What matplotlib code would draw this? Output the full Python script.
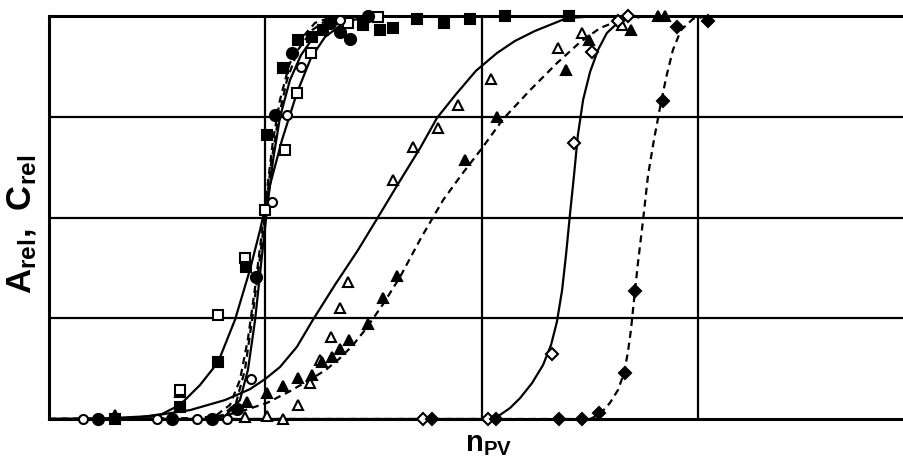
import matplotlib
matplotlib.use("Agg")
import matplotlib.pyplot as plt

plt.rcParams['font.family'] = ['Liberation Sans', 'DejaVu Sans']
plt.rcParams['mathtext.fontset'] = 'custom'
plt.rcParams['mathtext.rm'] = 'Liberation Sans'
plt.rcParams['mathtext.bf'] = 'Liberation Sans:bold'

# ---- measured points (x in grid units, y relative 0..1) ----
sq_open_x = [0.605, 0.781, 0.905, 0.998, 1.090, 1.145, 1.210, 1.381, 1.520]
sq_open_y = [0.072, 0.258, 0.400, 0.519, 0.667, 0.809, 0.908, 0.983, 0.998]

sq_fill_x = [0.305, 0.605, 0.781, 0.910, 1.007, 1.081, 1.150, 1.215, 1.266, 1.450,
             1.529, 1.589, 1.700, 1.824, 1.945, 2.106, 2.402]
sq_fill_y = [0.000, 0.030, 0.141, 0.377, 0.705, 0.871, 0.940, 0.948, 0.965, 0.978,
             0.965, 0.970, 0.993, 0.983, 0.993, 1.000, 1.000]

ci_fill_x = [0.226, 0.568, 0.753, 0.868, 0.956, 1.044, 1.122, 1.298, 1.344, 1.390, 1.473]
ci_fill_y = [0.000, 0.000, 0.000, 0.025, 0.352, 0.754, 0.908, 0.983, 0.960, 0.943, 1.000]

ci_open_x = [0.157, 0.499, 0.684, 0.822, 0.933, 1.030, 1.099, 1.164, 1.344]
ci_open_y = [0.000, 0.000, 0.000, 0.000, 0.099, 0.538, 0.754, 0.873, 0.990]

tri_open_x = [0.605, 0.905, 1.007, 1.081, 1.150, 1.206, 1.252, 1.303, 1.344, 1.381,
              1.589, 1.681, 1.797, 1.889, 2.042, 2.351, 2.462, 2.647]
tri_open_y = [0.067, 0.005, 0.007, 0.000, 0.035, 0.089, 0.146, 0.203, 0.275, 0.340,
              0.593, 0.675, 0.722, 0.779, 0.844, 0.921, 0.958, 0.978]

tri_fill_x = [0.305, 0.915, 1.007, 1.081, 1.150, 1.215, 1.261, 1.307, 1.344, 1.386,
              1.473, 1.543, 1.607, 1.921, 2.069, 2.388, 2.494, 2.688, 2.813, 2.845]
tri_fill_y = [0.010, 0.042, 0.065, 0.082, 0.102, 0.109, 0.141, 0.154, 0.174, 0.196,
              0.236, 0.300, 0.355, 0.643, 0.749, 0.866, 0.940, 0.965, 1.000, 1.000]

dia_open_x = [1.727, 2.028, 2.323, 2.425, 2.508, 2.628, 2.674]
dia_open_y = [0.000, 0.000, 0.161, 0.685, 0.911, 0.988, 1.000]

dia_fill_x = [1.769, 2.065, 2.356, 2.462, 2.540, 2.661, 2.707, 2.836, 2.901, 3.044]
dia_fill_y = [0.000, 0.000, 0.000, 0.000, 0.015, 0.114, 0.318, 0.789, 0.973, 0.988]

# ---- fitted curves ----
fit_sq_open_x = [0, 0.236, 0.400, 0.520, 0.605, 0.697, 0.781, 0.859, 0.928, 0.975, 1.021,
                 1.076, 1.145, 1.210, 1.275, 1.367, 1.483, 2.0]
fit_sq_open_y = [0, 0, 0.003, 0.012, 0.035, 0.084, 0.141, 0.246, 0.370, 0.469, 0.581,
                 0.692, 0.809, 0.896, 0.948, 0.985, 1.0, 1.0]

fit_sq_fill_x = [0, 0.651, 0.767, 0.836, 0.882, 0.919, 0.951, 0.979, 1.007, 1.035,
                 1.067, 1.109, 1.159, 1.229, 1.321, 1.6]
fit_sq_fill_y = [0, 0, 0.007, 0.035, 0.097, 0.199, 0.323, 0.444, 0.568, 0.692,
                 0.792, 0.878, 0.940, 0.983, 1.0, 1.0]

fit_ci_fill_x = [0, 0.697, 0.799, 0.864, 0.905, 0.938, 0.970, 0.998, 1.025, 1.058,
                 1.099, 1.150, 1.215, 1.298, 1.436, 1.7]
fit_ci_fill_y = [0, 0, 0.007, 0.040, 0.122, 0.246, 0.382, 0.506, 0.630, 0.742,
                 0.841, 0.916, 0.965, 0.995, 1.0, 1.0]

fit_ci_open_x = [0, 0.720, 0.813, 0.882, 0.919, 0.952, 0.979, 1.007, 1.035, 1.067,
                 1.113, 1.164, 1.229, 1.321, 1.436, 1.8]
fit_ci_open_y = [0, 0, 0.007, 0.047, 0.122, 0.246, 0.382, 0.519, 0.643, 0.749,
                 0.841, 0.903, 0.953, 0.988, 1.0, 1.0]

fit_tri_open_x = [0, 0.236, 0.467, 0.651, 0.813, 0.928, 0.998, 1.067, 1.145, 1.219,
                  1.321, 1.427, 1.529, 1.621, 1.714, 1.792, 1.880, 1.972, 2.069, 2.152,
                  2.245, 2.393, 2.545, 2.730]
fit_tri_open_y = [0, 0.001, 0.007, 0.022, 0.047, 0.074, 0.099, 0.129, 0.179, 0.246,
                  0.333, 0.419, 0.509, 0.591, 0.672, 0.747, 0.806, 0.864, 0.908, 0.938,
                  0.963, 0.995, 1.0, 1.0]

fit_tri_fill_x = [0, 0.697, 0.836, 0.905, 1.007, 1.113, 1.219, 1.279, 1.344, 1.400,
                  1.460, 1.543, 1.621, 1.718, 1.820, 1.908, 2.000, 2.097, 2.222, 2.346,
                  2.453, 2.545, 2.637, 2.762, 3.007]
fit_tri_fill_y = [0, 0.002, 0.012, 0.022, 0.040, 0.069, 0.102, 0.122, 0.151, 0.181,
                  0.221, 0.285, 0.352, 0.449, 0.543, 0.608, 0.672, 0.744, 0.816, 0.883,
                  0.935, 0.970, 0.990, 1.0, 1.0]

fit_dia_open_x = [0, 2.0, 2.069, 2.129, 2.176, 2.231, 2.282, 2.319, 2.346, 2.370,
                  2.388, 2.406, 2.425, 2.443, 2.467, 2.499, 2.536, 2.577, 2.637, 2.697, 3.007]
fit_dia_open_y = [0, 0, 0.005, 0.027, 0.052, 0.089, 0.134, 0.184, 0.241, 0.320,
                  0.407, 0.506, 0.605, 0.705, 0.792, 0.861, 0.916, 0.958, 0.988, 1.0, 1.0]

fit_dia_fill_x = [0, 2.499, 2.545, 2.591, 2.628, 2.656, 2.674, 2.688, 2.702, 2.721,
                  2.744, 2.767, 2.794, 2.822, 2.850, 2.882, 2.919, 2.975, 3.053, 3.284]
fit_dia_fill_y = [0, 0, 0.012, 0.040, 0.072, 0.114, 0.166, 0.221, 0.295, 0.390,
                  0.494, 0.605, 0.692, 0.772, 0.846, 0.916, 0.965, 0.993, 1.0, 1.0]

# ==========================================
# FIGURE
# ==========================================
fig = plt.figure(figsize=(9.04, 4.59), dpi=100)
ax = fig.add_axes([49 / 904, 40 / 459, 855 / 904, 403 / 459])

LW = 1.6
solid = dict(color='black', lw=LW, zorder=2, solid_joinstyle='round')
dashed = dict(color='black', lw=LW, ls=(0, (3.2, 2.2)), zorder=2)

ax.plot(fit_sq_open_x, fit_sq_open_y, **solid)
ax.plot(fit_ci_open_x, fit_ci_open_y, **solid)
ax.plot(fit_tri_open_x, fit_tri_open_y, **solid)
ax.plot(fit_dia_open_x, fit_dia_open_y, **solid)
ax.plot(fit_sq_fill_x, fit_sq_fill_y, **dashed)
ax.plot(fit_ci_fill_x, fit_ci_fill_y, **dashed)
ax.plot(fit_tri_fill_x, fit_tri_fill_y, **dashed)
ax.plot(fit_dia_fill_x, fit_dia_fill_y, **dashed)

mk = dict(ls='none', color='black', mec='black', mew=1.5, zorder=4, clip_on=False)
ax.plot(tri_open_x, tri_open_y, '^', ms=7, mfc='white', **mk)
ax.plot(tri_fill_x, tri_fill_y, '^', ms=7, mfc='black', **mk)
ax.plot(dia_open_x, dia_open_y, 'D', ms=6.5, mfc='white', **mk)
ax.plot(dia_fill_x, dia_fill_y, 'D', ms=6.5, mfc='black', **mk)
ax.plot(sq_open_x, sq_open_y, 's', ms=6.5, mfc='white', **mk)
ax.plot(sq_fill_x, sq_fill_y, 's', ms=6.5, mfc='black', **mk)
ax.plot(ci_open_x, ci_open_y, 'o', ms=6.5, mfc='white', **mk)
ax.plot(ci_fill_x, ci_fill_y, 'o', ms=8, mfc='black', **mk)

ax.set_xlim(0, 855 / 216.5)
ax.set_ylim(0, 1)
ax.set_xticks([1, 2, 3])
ax.set_yticks([0.25, 0.5, 0.75])
ax.grid(True, color='black', lw=1.6)
ax.tick_params(length=0, labelbottom=False, labelleft=False)
for s in ['left', 'top', 'bottom']:
    ax.spines[s].set_linewidth(2.2)
ax.spines['right'].set_visible(False)

fig.text(22 / 904, 1 - 224 / 459, r'$\mathbf{A_{rel},\ C_{rel}}$', rotation=90,
         ha='center', va='center', fontsize=25)
fig.text(489 / 904, 1 - 444 / 459, r'$\mathbf{n_{PV}}$',
         ha='center', va='center', fontsize=21)

fig.savefig('out.png', dpi=100)
